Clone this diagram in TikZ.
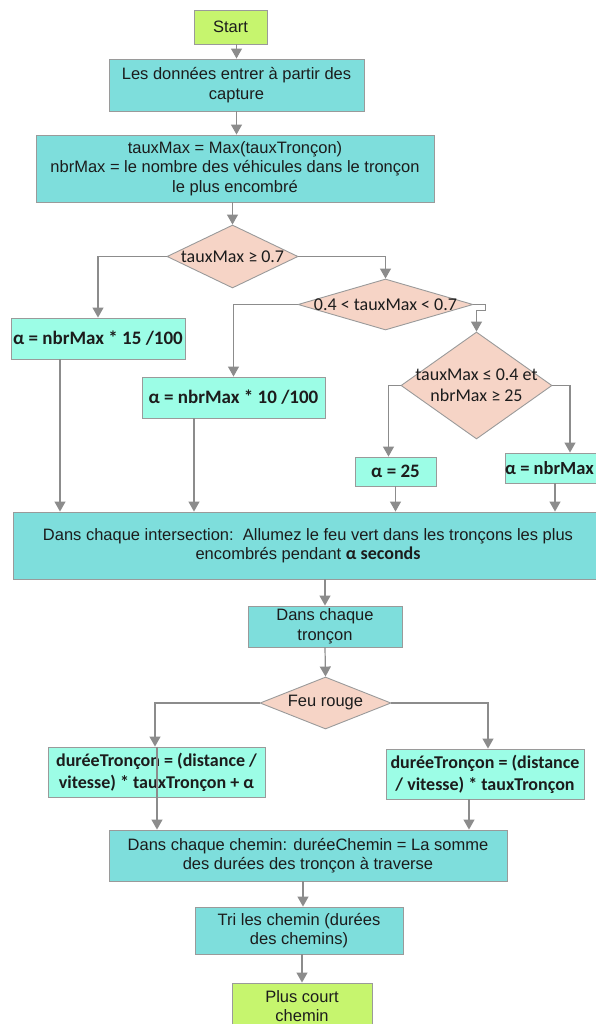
\documentclass[tikz,border=0pt]{standalone}
\usepackage{fontspec}
\setmainfont{Liberation Sans}
\newfontfamily\calib{Carlito}
\usetikzlibrary{arrows.meta,shapes.geometric,calc}
\definecolor{lime}{HTML}{C6F56E}
\definecolor{cyanbox}{HTML}{7EDEDC}
\definecolor{mint}{HTML}{9CFDE6}
\definecolor{peach}{HTML}{F6D4C6}
\definecolor{edge}{HTML}{9A9A9A}
\definecolor{wire}{HTML}{8C8C8C}
\definecolor{ink}{HTML}{1C1C1C}
\tikzset{
  box/.style={draw=edge, line width=0.9pt, fill=cyanbox, text=ink, inner sep=0pt,
    align=center, font=\fontsize{16.5}{19.5}\selectfont},
  term/.style={box, fill=lime},
  abox/.style={box, fill=mint, font=\calib\bfseries\fontsize{19}{22}\selectfont},
  dbox/.style={box, fill=mint, font=\calib\bfseries\fontsize{18}{22}\selectfont},
  dia/.style={diamond, draw=edge, line width=0.9pt, fill=peach, inner sep=0pt},
  dtext/.style={text=ink, align=center, inner sep=0pt, font=\calib\fontsize{18}{21}\selectfont},
  arr/.style={draw=wire, line width=1.2pt, -{Triangle[width=11pt,length=10pt]}},
}
\begin{document}
\begin{tikzpicture}[x=1pt,y=-1pt]
\useasboundingbox (0,0) rectangle (596,1024);

% main chain
\node[term, minimum width=73pt, minimum height=34pt] (start) at (230.5,27) {Start};
\node[box, minimum width=255pt, minimum height=52pt] (data) at (236.5,85)
  {Les données entrer à partir des\\capture};
\node[box, minimum width=398pt, minimum height=67pt] (maxbox) at (235,168.5)
  {tauxMax = Max(tauxTronçon)\\nbrMax = le nombre des véhicules dans le tronçon\\le plus encombré};

% decisions on tauxMax
\node[dia, minimum width=131pt, minimum height=63pt] (d1) at (232.5,256.5) {};
\node[dtext] (d1t) at (d1) {tauxMax ≥ 0.7};
\node[dia, minimum width=175pt, minimum height=51pt] (d2) at (385.5,304.5) {};
\node[dtext] (d2t) at (d2) {0.4 < tauxMax < 0.7};
\node[dia, minimum width=151pt, minimum height=107pt] (d3) at (476.5,385.5) {};
\node[dtext] (d3t) at (d3) {tauxMax ≤ 0.4 et\\nbrMax ≥ 25};

% alpha values
\node[abox, minimum width=174pt, minimum height=41pt] (a15) at (98,338.5) {α = nbrMax * 15 /100};
\node[abox, minimum width=183pt, minimum height=41pt] (a10) at (233.5,397.5) {α = nbrMax * 10 /100};
\node[abox, minimum width=81pt, minimum height=29pt] (a25) at (395.5,471.5) {α = 25};
\node[abox, minimum width=100pt, minimum height=30pt] (anbr) at (555,468) {};
\node[inner sep=0pt, text=ink, font=\calib\bfseries\fontsize{18.5}{22}\selectfont,
  anchor=east] (anbrt) at (594,468) {α = nbrMax};

% green light phase
\node[box, minimum width=590pt, minimum height=67pt] (big) at (308,545.5)
  {Dans chaque intersection:\ \ Allumez le feu vert dans les tronçons les plus\\
   encombrés pendant {\calib\bfseries\fontsize{18}{19.5}\selectfont α seconds}};
\node[box, minimum width=154pt, minimum height=41pt] (tron) at (325,626.5) {Dans chaque\\tronçon};
\node[dia, minimum width=131pt, minimum height=52pt] (feu) at (325.5,703) {};
\node[box, draw=none, fill=none, font=\fontsize{16.5}{19.5}\selectfont] (feut) at (feu) {Feu rouge};

% segment durations
\node[dbox, minimum width=217pt, minimum height=50pt] (dl) at (156.5,772)
  {duréeTronçon = (distance /\\vitesse) * tauxTronçon + α};
\node[dbox, minimum width=198pt, minimum height=50pt] (dr) at (485,774)
  {duréeTronçon = (distance\\/ vitesse) * tauxTronçon};

% paths
\node[box, minimum width=398pt, minimum height=51pt] (chemin) at (308,855.5)
  {Dans chaque chemin: duréeChemin = La somme\\des durées des tronçon à traverse};
\node[box, minimum width=208pt, minimum height=47pt] (tri) at (299,930.5)
  {Tri les chemin (durées\\des chemins)};
\node[term, minimum width=140pt, minimum height=46pt] (fin) at (302,1006)
  {Plus court\\chemin};

% connectors
\draw[arr] (data.north |- start.south) -- (data.north);
\draw[arr] (data.south) -- (data.south |- maxbox.north);
\draw[arr] (d1.north |- maxbox.south) -- (d1.north);
\draw[arr] (d1.west) -| (a15.north);
\draw[arr] (d1.east) -| (d2.north);
\draw[arr] (d2.west) -| (a10.north);
\draw[arr] (d2.east) -- ++(12,0) -- ++(0,6) -| (d3.north);
\coordinate (a25i) at ([xshift=-7pt]a25.north);
\draw[arr] (d3.west) -| (a25i);
\coordinate (anbri) at ([xshift=15pt]anbr.north);
\draw[arr] (d3.east) -| (anbri);

\coordinate (a15o) at ([xshift=-38pt]a15.south);
\coordinate (a10o) at ([xshift=-39.5pt]a10.south);
\draw[arr] (a15o) -- (a15o |- big.north);
\draw[arr] (a10o) -- (a10o |- big.north);
\draw[arr] (a25.south) -- (a25.south |- big.north);
\draw[arr] (anbr.south) -- (anbr.south |- big.north);

\draw[arr] (tron.north |- big.south) -- (tron.north);
\draw[arr] (tron.south) -- (feu.north);
\coordinate (dli) at ([xshift=-1.5pt]dl.north);
\draw[arr] (feu.west) -| (dli);
\coordinate (dri) at ([xshift=3pt]dr.north);
\draw[arr] (feu.east) -| (dri);

\coordinate (dlo) at ([xshift=0.5pt]dl.north);
\draw[arr] (dlo) -- (dlo |- chemin.north);
\coordinate (dro) at ([xshift=-16pt]dr.south);
\draw[arr] (dro) -- (dro |- chemin.north);
\coordinate (cho) at ([xshift=-5pt]chemin.south);
\draw[arr] (cho) -- (cho |- tri.north);
\draw[arr] (fin.north |- tri.south) -- (fin.north);
\end{tikzpicture}
\end{document}
